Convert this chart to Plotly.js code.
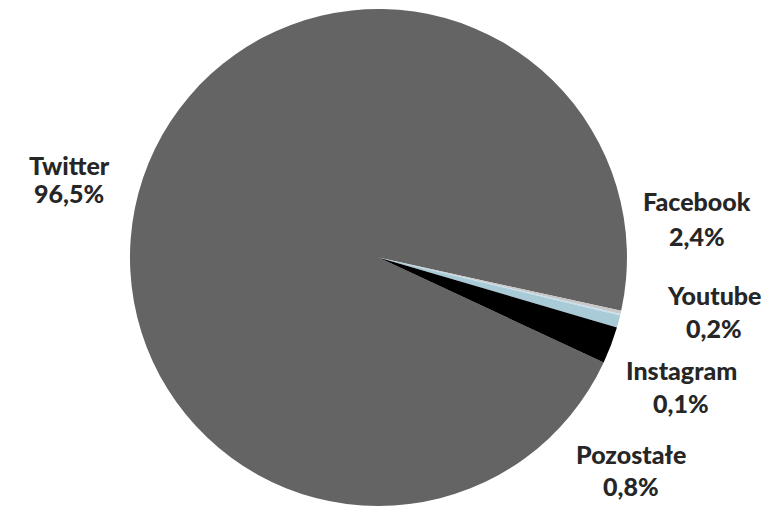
<!DOCTYPE html>
<html><head><meta charset="utf-8">
<script src="https://cdn.plot.ly/plotly-3.0.1.min.js"></script>
<style>html,body{margin:0;padding:0;background:#fff}#c{width:772px;height:506px}</style>
</head><body><div id="c"></div>
<script>
const labels = ["Twitter", "Youtube", "Instagram", "Pozostałe", "Facebook"];
const values = [96.5, 0.2, 0.1, 0.8, 2.4];
const valueText = ["96,5%", "0,2%", "0,1%", "0,8%", "2,4%"];
const colors = ["#646464", "#c8c8c8", "#c5e0f0", "#a9cbd7", "#000000"];
// label positions in pixels (center x, name line y, value line y)
const labelPos = [[69,159,187],[714,291,325],[681,368,401],[631,453,486],[697,195,231]];

const W = 772, H = 506;
const ann = [];
labels.forEach((l, i) => {
  const p = labelPos[i];
  ann.push({text: l, x: p[0]/W, y: 1 - p[1]/H});
  ann.push({text: valueText[i], x: p[0]/W, y: 1 - p[2]/H});
});
const annotations = ann.map(a => Object.assign({
  xref: 'paper', yref: 'paper', showarrow: false, xanchor: 'center', yanchor: 'middle',
  font: {family: 'Lato, sans-serif', size: 25, color: '#262626', weight: 900}
}, a));

Plotly.newPlot('c', [{
  type: 'pie', labels: labels, values: values, sort: false, direction: 'clockwise',
  rotation: 115, textinfo: 'none', hoverinfo: 'label+percent',
  marker: {colors: colors, line: {width: 0}},
  domain: {x: [0.098, 0.8825], y: [0, 1]}
}], {
  width: W, height: H, margin: {l: 0, r: 0, t: 9, b: 0},
  showlegend: false, paper_bgcolor: '#fff', annotations: annotations
}, {displayModeBar: false, staticPlot: true});
</script></body></html>
